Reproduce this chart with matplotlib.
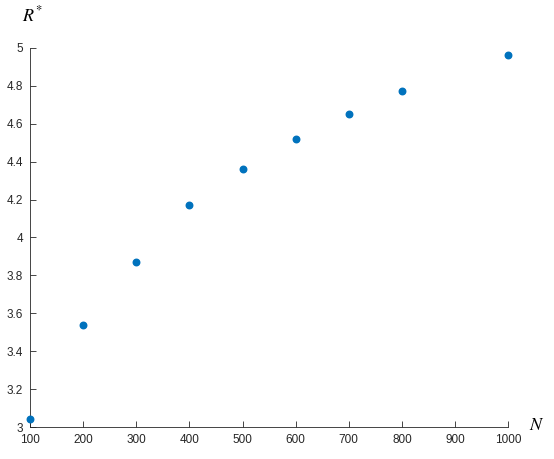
import matplotlib
matplotlib.use("Agg")
import matplotlib.pyplot as plt

N = [100, 200, 300, 400, 500, 600, 700, 800, 1000]
R_star = [3.04, 3.54, 3.87, 4.17, 4.36, 4.52, 4.65, 4.77, 4.96]

x_ticks = [100, 200, 300, 400, 500, 600, 700, 800, 900, 1000]
y_ticks = [3, 3.2, 3.4, 3.6, 3.8, 4, 4.2, 4.4, 4.6, 4.8, 5]
y_tick_labels = ["3", "3.2", "3.4", "3.6", "3.8", "4", "4.2", "4.4", "4.6", "4.8", "5"]

plt.rcParams["font.family"] = ["Liberation Sans", "DejaVu Sans"]
plt.rcParams["mathtext.fontset"] = "stix"

fig = plt.figure(figsize=(5.54, 4.59), dpi=100)
ax = fig.add_axes([0.0542, 0.0697, 0.863, 0.826])

ax.scatter(N, R_star, s=22, color="#0072BD", zorder=3, clip_on=False)

ax.set_xlim(100, 1000)
ax.set_ylim(3, 5)
ax.set_xticks(x_ticks)
ax.set_yticks(y_ticks)
ax.set_yticklabels(y_tick_labels)

for side in ("top", "right"):
    ax.spines[side].set_visible(False)
for side in ("left", "bottom"):
    ax.spines[side].set_color("#262626")
    ax.spines[side].set_linewidth(0.6)

ax.tick_params(direction="in", length=4, width=0.6, colors="#262626",
               labelsize=8.5)
ax.tick_params(axis="x", pad=5)
ax.tick_params(axis="y", pad=5)

fig.text(32 / 554, 1 - 15 / 459, r"$R^{*}$", fontsize=13, ha="center", va="center")
fig.text(537 / 554, 1 - 425 / 459, r"$N$", fontsize=13, ha="center", va="center")

fig.savefig("out.png", dpi=100)
